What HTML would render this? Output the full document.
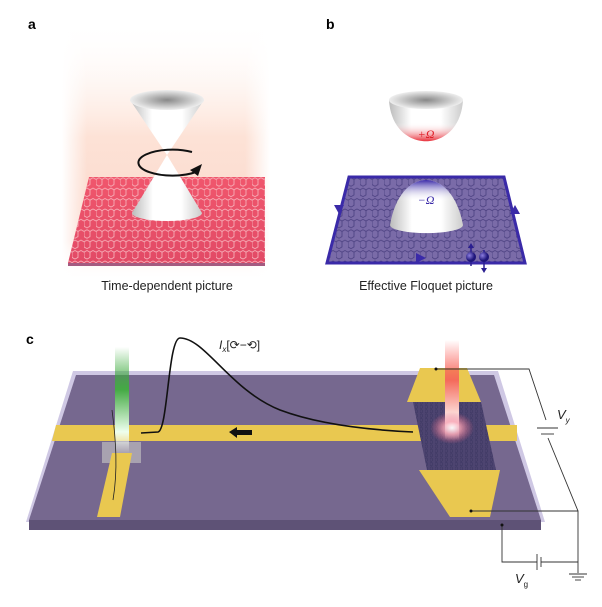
<!DOCTYPE html>
<html><head><meta charset="utf-8"><style>
html,body{margin:0;padding:0;background:#fff;}
svg{display:block;font-family:"Liberation Sans",sans-serif;}
</style></head><body>
<svg width="602" height="607" viewBox="0 0 602 607" xmlns="http://www.w3.org/2000/svg">
<defs>
<linearGradient id="glow" x1="0" y1="0" x2="0" y2="1">
<stop offset="0" stop-color="#fff" stop-opacity="0"/><stop offset="0.45" stop-color="#fde2d6"/><stop offset="0.85" stop-color="#fbd8cc"/><stop offset="1" stop-color="#fff" stop-opacity="0"/></linearGradient>
<linearGradient id="glowx" x1="0" y1="0" x2="1" y2="0">
<stop offset="0" stop-color="#fff" stop-opacity="1"/><stop offset="0.12" stop-color="#fff" stop-opacity="0"/><stop offset="0.88" stop-color="#fff" stop-opacity="0"/><stop offset="1" stop-color="#fff" stop-opacity="1"/></linearGradient>
<linearGradient id="cone" x1="0" y1="0" x2="1" y2="0">
<stop offset="0" stop-color="#bbb"/><stop offset="0.3" stop-color="#fff"/><stop offset="0.7" stop-color="#fff"/><stop offset="1" stop-color="#ccc"/></linearGradient>
<radialGradient id="bowlin" cx="0.5" cy="0.5" r="0.5"><stop offset="0" stop-color="#888"/><stop offset="1" stop-color="#eee"/></radialGradient>
<linearGradient id="bowlred" x1="0" y1="0" x2="0" y2="1"><stop offset="0.55" stop-color="#fff" stop-opacity="0"/><stop offset="1" stop-color="#e8303a"/></linearGradient>
<linearGradient id="domeblue" x1="0" y1="0" x2="0" y2="1"><stop offset="0" stop-color="#3a2aa8"/><stop offset="0.4" stop-color="#fff" stop-opacity="0"/></linearGradient>
<linearGradient id="sheetr" x1="0" y1="0" x2="0" y2="1"><stop offset="0" stop-color="#f0566c"/><stop offset="1" stop-color="#e24a66"/></linearGradient>
<pattern id="hexr" width="12" height="10.4" patternUnits="userSpaceOnUse">
<path d="M0 2.6 L3 0.9 L6 2.6 L6 7.8 L3 9.5 L0 7.8Z M6 2.6 L9 0.9 L12 2.6" fill="none" stroke="#f8b8c0" stroke-width="0.8"/></pattern>
<pattern id="hexb" width="12" height="10.4" patternUnits="userSpaceOnUse">
<path d="M0 2.6 L3 0.9 L6 2.6 L6 7.8 L3 9.5 L0 7.8Z M6 2.6 L9 0.9 L12 2.6" fill="none" stroke="#4a3f80" stroke-width="0.8"/></pattern>
<pattern id="hexs" width="5" height="4.4" patternUnits="userSpaceOnUse">
<path d="M0 1 L1.25 0.3 L2.5 1 L2.5 3.2 L1.25 3.9 L0 3.2Z" fill="none" stroke="#3a3560" stroke-width="0.5"/></pattern>
<linearGradient id="beamr" x1="0" y1="0" x2="0" y2="1"><stop offset="0" stop-color="#f55" stop-opacity="0"/><stop offset="0.4" stop-color="#f46a5a"/><stop offset="0.85" stop-color="#fff"/><stop offset="1" stop-color="#fff" stop-opacity="0"/></linearGradient>
<linearGradient id="beamg" x1="0" y1="0" x2="0" y2="1"><stop offset="0" stop-color="#3a3" stop-opacity="0"/><stop offset="0.4" stop-color="#4a4"/><stop offset="0.8" stop-color="#efe"/><stop offset="1" stop-color="#fff" stop-opacity="0"/></linearGradient>
<radialGradient id="spot"><stop offset="0" stop-color="#fff"/><stop offset="0.4" stop-color="#f7a0b0"/><stop offset="1" stop-color="#e06080" stop-opacity="0"/></radialGradient>
<radialGradient id="ball" cx="0.35" cy="0.35"><stop offset="0" stop-color="#8c7ee0"/><stop offset="1" stop-color="#1e157a"/></radialGradient>
</defs>

<!-- Panel a -->
<text x="28" y="29" font-size="14" font-weight="bold">a</text>
<rect x="62" y="20" width="208" height="260" fill="url(#glow)"/>
<rect x="62" y="20" width="208" height="260" fill="url(#glowx)"/>
<polygon points="89,177 265,177 265,263 68,263" fill="url(#sheetr)"/>
<polygon points="89,177 265,177 265,263 68,263" fill="url(#hexr)"/>
<polygon points="68,263 265,263 265,266 68,266" fill="#a45a80"/>
<path d="M132,213 L167,155 L202,213 A35,8 0 0 1 132,213Z" fill="url(#cone)"/>
<path d="M130,100 L167,155 L204,100Z" fill="url(#cone)"/>
<ellipse cx="167" cy="100" rx="37" ry="10" fill="url(#bowlin)"/>
<path d="M192,152 A34,13 0 1 0 196,172" fill="none" stroke="#111" stroke-width="2"/>
<polygon points="190,170 202,164 198,176" fill="#111"/>
<text x="167" y="290" font-size="12.5" text-anchor="middle" fill="#222">Time-dependent picture</text>

<!-- Panel b -->
<text x="326" y="29" font-size="14" font-weight="bold">b</text>
<polygon points="349,177 504,177 525,263 327,263" fill="#7a6ba8"/>
<polygon points="349,177 504,177 525,263 327,263" fill="url(#hexb)"/>
<polygon points="349,177 504,177 525,263 327,263" fill="none" stroke="#3a2aa8" stroke-width="3"/>
<polygon points="334,205 344,205 339,214" fill="#3a2aa8"/>
<polygon points="510,214 520,214 515,205" fill="#3a2aa8"/>
<polygon points="416,253 426,258 416,263" fill="#3a2aa8"/>
<line x1="471" y1="246" x2="471" y2="266" stroke="#2a1e90" stroke-width="1.5"/>
<polygon points="468,248 474,248 471,243" fill="#2a1e90"/>
<line x1="484" y1="250" x2="484" y2="270" stroke="#2a1e90" stroke-width="1.5"/>
<polygon points="481,268 487,268 484,273" fill="#2a1e90"/>
<circle cx="471" cy="257" r="5" fill="url(#ball)"/>
<circle cx="484" cy="257" r="5" fill="url(#ball)"/>
<path d="M390,225 C400,165 452,165 463,225 A36,8 0 0 1 390,225Z" fill="url(#cone)"/>
<path d="M390,225 C400,165 452,165 463,225 A36,8 0 0 1 390,225Z" fill="url(#domeblue)"/>
<text x="426" y="204" font-size="12" font-style="italic" text-anchor="middle" fill="#3a2aa8" font-family="Liberation Serif,serif">−Ω</text>
<path d="M389,100 C392,155 460,155 463,100Z" fill="url(#cone)"/>
<path d="M389,100 C392,155 460,155 463,100Z" fill="url(#bowlred)"/>
<ellipse cx="426" cy="100" rx="37" ry="9" fill="url(#bowlin)"/>
<text x="426" y="138" font-size="12" font-style="italic" text-anchor="middle" fill="#e0202a" font-family="Liberation Serif,serif">+Ω</text>
<text x="426" y="290" font-size="12.5" text-anchor="middle" fill="#222">Effective Floquet picture</text>

<!-- Panel c -->
<text x="26" y="344" font-size="14" font-weight="bold">c</text>
<polygon points="73,371 498,371 545,522 26,522" fill="#cfc8e4"/>
<polygon points="76,375 494,375 541,520 29,520" fill="#76688f"/>
<polygon points="29,520 541,520 541,530 29,530" fill="#5e5276"/>
<polygon points="56,425 517,425 517,441 52,441" fill="#e9c850"/>
<rect x="102" y="442" width="39" height="21" fill="#a8a2b0"/>
<polygon points="112,453 132,453 120,517 97,517" fill="#e9c850"/>
<polygon points="420,368 467,368 481,402 407,402" fill="#e9c850"/>
<polygon points="413,402 481,402 496,470 427,470" fill="#4d4470"/>
<polygon points="413,402 481,402 496,470 427,470" fill="url(#hexs)"/>
<polygon points="419,470 500,470 490,517 450,517" fill="#e9c850"/>
<rect x="445" y="340" width="14" height="100" fill="url(#beamr)"/>
<ellipse cx="452" cy="428" rx="22" ry="16" fill="url(#spot)" opacity="0.8"/>
<rect x="115" y="347" width="14" height="106" fill="url(#beamg)"/>
<path d="M141,433 L158,432 C168,430 168,338 180,338 C205,338 230,390 280,410 C320,425 370,430 413,432" fill="none" stroke="#111" stroke-width="1.6"/>
<path d="M112,410 C116,440 118,470 113,500" fill="none" stroke="#222" stroke-width="0.8"/>
<polygon points="229,432 237,427 237,430 252,430 252,435 237,435 237,438" fill="#111"/>
<text x="219" y="349" font-size="12" font-style="italic" fill="#222">I<tspan font-size="8" dy="3">x</tspan><tspan dy="-3" font-style="normal">[⟳−⟲]</tspan></text>
<g stroke="#333" stroke-width="0.9" fill="none">
<polyline points="436,369 529,369 546,420"/>
<polyline points="548,438 578,511"/>
<line x1="537" y1="428" x2="558" y2="428"/>
<line x1="541" y1="434" x2="554" y2="434"/>
<polyline points="471,511 578,511 578,573"/>
<polyline points="502,525 502,562 537,562"/>
<line x1="537" y1="554" x2="537" y2="570"/>
<line x1="541" y1="557" x2="541" y2="567"/>
<line x1="541" y1="562" x2="578" y2="562"/>
<line x1="569" y1="574" x2="587" y2="574"/>
<line x1="572" y1="577" x2="584" y2="577"/>
<line x1="575" y1="580" x2="581" y2="580"/>
</g>
<circle cx="436" cy="369" r="1.5" fill="#111"/><circle cx="471" cy="511" r="1.5" fill="#111"/><circle cx="502" cy="525" r="1.5" fill="#111"/>
<text x="557" y="419" font-size="13" font-style="italic" fill="#222">V<tspan font-size="8" dy="4">y</tspan></text>
<text x="515" y="583" font-size="13" font-style="italic" fill="#222">V<tspan font-size="8" dy="4" font-style="normal">g</tspan></text>
</svg>
</body></html>
